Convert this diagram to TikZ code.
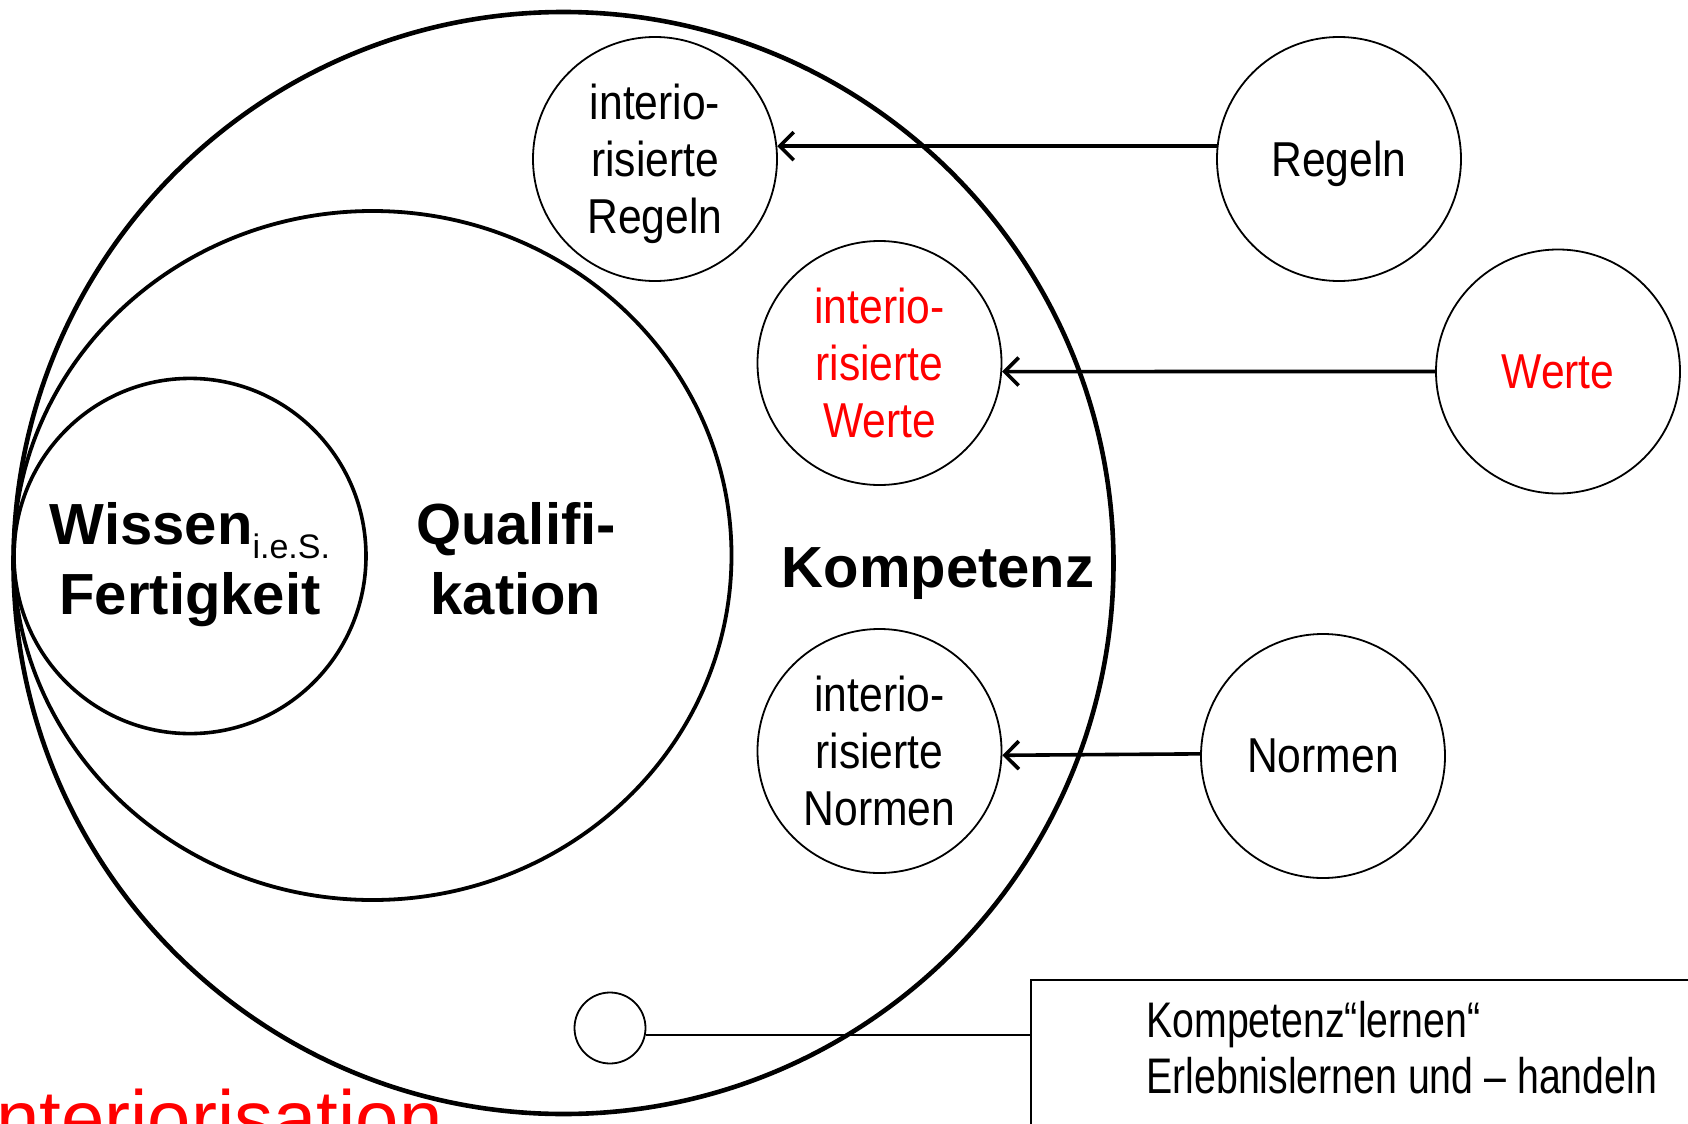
\documentclass[tikz,border=0pt]{standalone}
\usepackage{fontspec}
\setmainfont{Liberation Sans}
\newfontfamily\narrowfont[FakeStretch=0.87]{Liberation Sans}
\newfontfamily\boxfont[FakeStretch=0.785]{Liberation Sans}
\usetikzlibrary{arrows.meta,shapes.geometric}
\definecolor{tred}{RGB}{255,0,0}
\begin{document}
\begin{tikzpicture}[x=0.5pt,y=-0.5pt,
  ring/.style={draw, ellipse, inner sep=0pt},
  bubble/.style={draw, circle, line width=0.9pt, minimum size=122pt, inner sep=0pt, align=center,
    text depth=0pt, font=\narrowfont\fontsize{24.5}{28.5}\selectfont},
  bigtxt/.style={font=\bfseries\fontsize{29}{35}\selectfont, inner sep=0pt},
  arr/.style={line width=1.8pt, -{Straight Barb[length=7pt,width=14pt]}},
  thinline/.style={line width=0.8pt}]
\useasboundingbox (0,0) rectangle (1688,1124);
\clip (0,0) rectangle (1688,1124);
% nested rings
\node[ring, line width=2.3pt, minimum width=550pt, minimum height=551pt] (komp) at (563.5,563) {};
\node[ring, line width=1.9pt, minimum width=359pt, minimum height=344.5pt] (qual) at (372.5,555.5) {};
\node[ring, line width=1.8pt, minimum width=176pt, minimum height=177.6pt] (wiss) at (190,556) {};
% ring labels
\node[bigtxt, anchor=base] (wisst) at (190,544) {\begin{tabular}[t]{@{}c@{}}Wissen\raisebox{-7pt}{\mdseries\fontsize{17}{17}\selectfont i.e.S.}\\Fertigkeit\end{tabular}};
\node[bigtxt, anchor=base] (qualt) at (516,544) {\begin{tabular}[t]{@{}c@{}}Qualifi-\\kation\end{tabular}};
\node[bigtxt, anchor=base] (kompt) at (938,587) {Kompetenz};
% bubbles
\node[bubble] (iR) at (655,159) {interio-\\risierte\\Regeln};
\node[bubble, text=tred] (iW) at (879.5,363) {interio-\\risierte\\Werte};
\node[bubble] (iN) at (879.5,751) {interio-\\risierte\\Normen};
\node[bubble] (R) at (1339,159) {Regeln};
\node[bubble, text=tred] (W) at (1558,371.5) {Werte};
\node[bubble] (N) at (1323,756) {Normen};
% arrows
\draw[arr] (R.174) -- (iR.6);
\draw[arr] (W.west) -- (iW.-4);
\draw[arr] (N.179) -- (iN.-2);
% small circle and box
\node[draw, circle, line width=0.9pt, minimum size=35.5pt, inner sep=0pt] (sc) at (610,1028) {};
\node[draw, line width=0.9pt, anchor=north west, minimum width=400pt, minimum height=150pt, inner sep=0pt] (box) at (1030,979) {};
\draw[thinline] (sc.-11) -- (sc.-11 -| box.west);
\node[anchor=base west, inner sep=0pt, font=\boxfont\fontsize{25}{28}\selectfont] (boxt) at (1146,1037)
  {\begin{tabular}[t]{@{}l@{}}Kompetenz“lernen“\\Erlebnislernen und – handeln\end{tabular}};
% red caption
\node[anchor=base west, inner sep=0pt, text=tred, font=\fontsize{39}{39}\selectfont] (intt) at (-26,1145) {Interiorisation};
\end{tikzpicture}
\end{document}
